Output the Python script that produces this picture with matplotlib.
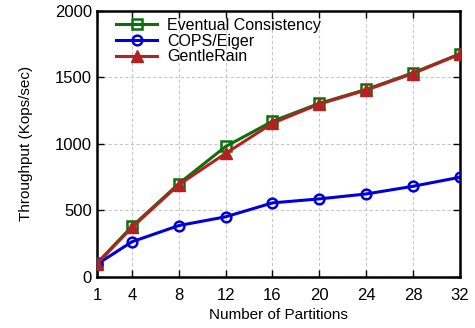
import matplotlib
matplotlib.use("Agg")
import matplotlib.pyplot as plt

plt.rcParams['font.family'] = ['Liberation Sans', 'DejaVu Sans']

partitions = [1, 4, 8, 12, 16, 20, 24, 28, 32]
eventual = [100, 378, 700, 980, 1170, 1305, 1410, 1535, 1678]
cops = [92, 262, 384, 450, 555, 585, 622, 680, 748]
gentlerain = [95, 370, 692, 928, 1155, 1300, 1405, 1530, 1675]
yticks = [0, 500, 1000, 1500, 2000]

fig = plt.figure(figsize=(4.75, 3.28), dpi=100)
ax = fig.add_axes([0.204, 0.157, 0.764, 0.809])

ax.plot(partitions, eventual, color='#0a700a', lw=2.2, marker='s', ms=7,
        mfc='none', mew=1.8, label='Eventual Consistency', zorder=3)
ax.plot(partitions, cops, color='#0000dd', lw=2.2, marker='o', ms=7,
        mfc='none', mew=1.8, label='COPS/Eiger', zorder=3)
ax.plot(partitions, gentlerain, color='#b22222', lw=2.2, marker='^', ms=8,
        label='GentleRain', zorder=4)

ax.set_xlim(1, 32)
ax.set_ylim(0, 2000)
ax.set_xticks(partitions)
ax.set_yticks(yticks)
ax.grid(True, color='#c8c8c8', linestyle=(0, (3, 2)), lw=0.8)
ax.tick_params(direction='in', top=True, right=True, labelsize=12, length=5, width=1)
ax.tick_params(axis='x', pad=8)
for s in ax.spines.values():
    s.set_linewidth(1.8)
ax.set_xlabel('Number of Partitions', fontsize=11)
ax.set_ylabel('Throughput (Kops/sec)', fontsize=11, labelpad=16)

leg = ax.legend(loc='upper left', frameon=False, fontsize=11.5, handlelength=2.6,
                borderaxespad=0.1, labelspacing=0.05, handletextpad=0.6,
                bbox_to_anchor=(0.03, 1.005))

fig.savefig('out.png', dpi=100)
